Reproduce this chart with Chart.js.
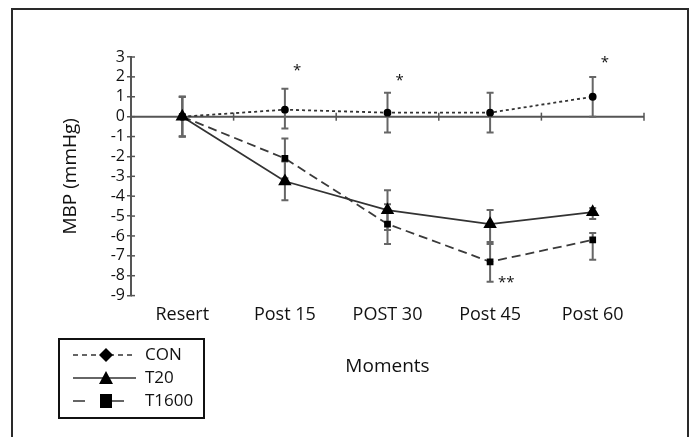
<!DOCTYPE html>
<html>
<head>
<meta charset="utf-8">
<script src="https://cdn.jsdelivr.net/npm/chart.js@4.4.1/dist/chart.umd.min.js"></script>
<style>
  html, body { margin: 0; padding: 0; background: #fff; }
  #wrap { position: relative; width: 691px; height: 437px; overflow: hidden; }
  #frame { position: absolute; left: 11px; top: 8px; width: 674px; height: 460px;
           border: 2px solid #2a2a2a; }
  canvas { position: absolute; left: 0; top: 0; }
</style>
</head>
<body>
<div id="wrap">
  <div id="frame"></div>
  <canvas id="chart" width="691" height="437"></canvas>
</div>
<script>
// moments on the x axis
var moments = ["Resert", "Post 15", "POST 30", "Post 45", "Post 60"];
var yTicks = [3, 2, 1, 0, -1, -2, -3, -4, -5, -6, -7, -8, -9];

// mean change in MBP
var con   = [0, 0.35, 0.2, 0.2, 1.0];
var t20   = [0, -3.25, -4.7, -5.4, -4.8];
var t1600 = [0, -2.1, -5.4, -7.3, -6.2];

// error bar ends (high / low)
var conHi   = [1, 1.4, 1.2, 1.2, 2.0];
var conLo   = [-1, -0.6, -0.8, -0.8, 0];
var t20Hi   = [1, -2.25, -3.7, -4.7, -4.6];
var t20Lo   = [-1, -4.2, -5.7, -6.4, -5.15];
var t1600Hi = [1, -1.1, -4.4, -6.3, -5.85];
var t1600Lo = [-1, -3.1, -6.4, -8.3, -7.2];

// significance marks
var sigText  = ["", "*", "*", "**", "*"];
var sigValue = [null, 2.3, 1.8, -8.35, 2.7];

var FONT = "'Open Sans', 'DejaVu Sans', sans-serif";
var ink = "#111";

// zero line with crossing ticks at category edges + error bars
var underlay = {
  id: "underlay",
  beforeDatasetsDraw: function (chart) {
    var ctx = chart.ctx, x = chart.scales.x, y = chart.scales.y;
    var y0 = y.getPixelForValue(0);
    ctx.save();
    ctx.strokeStyle = "#555";
    ctx.lineWidth = 2;
    ctx.beginPath();
    ctx.moveTo(x.left, y0);
    ctx.lineTo(x.right, y0);
    ctx.stroke();
    ctx.lineWidth = 1.5;
    for (var i = 0; i < moments.length; i++) {
      var edge = i < moments.length - 1
        ? (x.getPixelForValue(i) + x.getPixelForValue(i + 1)) / 2
        : x.right;
      ctx.beginPath();
      ctx.moveTo(edge, y0 - 4);
      ctx.lineTo(edge, y0 + 4);
      ctx.stroke();
    }
    // inner half of y tick marks
    yTicks.forEach(function (v) {
      var py = y.getPixelForValue(v);
      ctx.beginPath();
      ctx.moveTo(x.left, py);
      ctx.lineTo(x.left + 4, py);
      ctx.stroke();
    });

    // error bars
    ctx.strokeStyle = "#666";
    ctx.lineWidth = 2;
    chart.data.datasets.forEach(function (ds) {
      for (var i = 0; i < ds.data.length; i++) {
        var px = x.getPixelForValue(i);
        var hi = y.getPixelForValue(ds.errHi[i]);
        var lo = y.getPixelForValue(ds.errLo[i]);
        ctx.beginPath();
        ctx.moveTo(px, hi);
        ctx.lineTo(px, lo);
        ctx.moveTo(px - 3.5, hi);
        ctx.lineTo(px + 3.5, hi);
        ctx.moveTo(px - 3.5, lo);
        ctx.lineTo(px + 3.5, lo);
        ctx.stroke();
      }
    });
    ctx.restore();
  },
  afterDatasetsDraw: function (chart) {
    var ctx = chart.ctx, x = chart.scales.x, y = chart.scales.y;
    ctx.save();
    ctx.fillStyle = ink;
    ctx.font = "15px " + FONT;
    ctx.textAlign = "left";
    ctx.textBaseline = "middle";
    for (var i = 0; i < sigText.length; i++) {
      if (sigValue[i] === null) continue;
      ctx.fillText(sigText[i], x.getPixelForValue(i) + 8, y.getPixelForValue(sigValue[i]));
    }
    ctx.restore();
  }
};

// boxed legend at the lower left
var boxLegend = {
  id: "boxLegend",
  afterDraw: function (chart) {
    var ctx = chart.ctx;
    var bx = 59, by = 339, bw = 145, bh = 79;
    ctx.save();
    ctx.strokeStyle = ink;
    ctx.lineWidth = 2;
    ctx.strokeRect(bx, by, bw, bh);
    var dashes = [[5, 4], [], [12, 27]];
    var markers = ["diamond", "triangle", "square"];
    chart.data.datasets.forEach(function (ds, i) {
      var ly = by + 16 + i * 23;
      var mx = bx + 47;
      ctx.strokeStyle = "#333";
      ctx.lineWidth = 1.5;
      ctx.setLineDash(dashes[i]);
      ctx.beginPath();
      ctx.moveTo(bx + 14, ly);
      ctx.lineTo(bx + 77, ly);
      ctx.stroke();
      ctx.setLineDash([]);
      ctx.fillStyle = "#000";
      ctx.beginPath();
      if (markers[i] === "diamond") {
        ctx.moveTo(mx, ly - 7);
        ctx.lineTo(mx + 7, ly);
        ctx.lineTo(mx, ly + 7);
        ctx.lineTo(mx - 7, ly);
      } else if (markers[i] === "triangle") {
        ctx.moveTo(mx, ly - 7);
        ctx.lineTo(mx + 7, ly + 6);
        ctx.lineTo(mx - 7, ly + 6);
      } else {
        ctx.rect(mx - 6, ly - 7, 12, 14);
      }
      ctx.closePath();
      ctx.fill();
      ctx.font = "17px " + FONT;
      ctx.textBaseline = "middle";
      ctx.textAlign = "left";
      ctx.fillStyle = ink;
      ctx.fillText(ds.label, bx + 86, ly);
    });
    ctx.restore();
  }
};

var config = {
  type: "line",
  data: {
    labels: moments,
    datasets: [
      {
        label: "CON",
        data: con,
        errHi: conHi,
        errLo: conLo,
        borderColor: "#333",
        borderWidth: 1.8,
        borderDash: [3, 3],
        pointStyle: "circle",
        pointRadius: 3,
        pointBackgroundColor: "#000",
        pointBorderColor: "#000",
        tension: 0,
      },
      {
        label: "T20",
        data: t20,
        errHi: t20Hi,
        errLo: t20Lo,
        borderColor: "#333",
        borderWidth: 1.8,
        pointStyle: "triangle",
        pointRadius: 6,
        pointBackgroundColor: "#000",
        pointBorderColor: "#000",
        tension: 0,
      },
      {
        label: "T1600",
        data: t1600,
        errHi: t1600Hi,
        errLo: t1600Lo,
        borderColor: "#3a3a3a",
        borderWidth: 1.8,
        borderDash: [9, 5],
        pointStyle: "rect",
        pointRadius: 3.5,
        pointBackgroundColor: "#000",
        pointBorderColor: "#000",
        tension: 0,
      },
    ],
  },
  options: {
    responsive: false,
    animation: false,
    layout: { padding: { left: 12, right: 47, top: 57, bottom: 59 } },
    plugins: {
      legend: { display: false },
      tooltip: { enabled: false },
    },
    scales: {
      x: {
        type: "category",
        offset: true,
        grid: { display: false },
        border: { display: false },
        ticks: {
          color: ink,
          padding: 0,
          maxRotation: 0,
          font: { family: FONT, size: 18 },
        },
        title: {
          display: true,
          text: "Moments",
          color: ink,
          font: { family: FONT, size: 19 },
          padding: { top: 30, bottom: 0 },
        },
      },
      y: {
        min: -9,
        max: 3,
        afterFit: function (scale) { scale.width = 119; },
        ticks: {
          stepSize: 1,
          autoSkip: false,
          color: ink,
          padding: 2,
          font: { family: FONT, size: 16 },
        },
        grid: { drawOnChartArea: false, drawTicks: true, tickLength: 4, color: "#555", lineWidth: 1.5 },
        border: { display: true, color: "#555", width: 2 },
        title: {
          display: true,
          text: "MBP (mmHg)",
          color: ink,
          font: { family: FONT, size: 19 },
          padding: { top: 47, bottom: 0 },
        },
      },
    },
  },
  plugins: [underlay, boxLegend],
};

var chart = new Chart(document.getElementById("chart"), config);
</script>
</body>
</html>
